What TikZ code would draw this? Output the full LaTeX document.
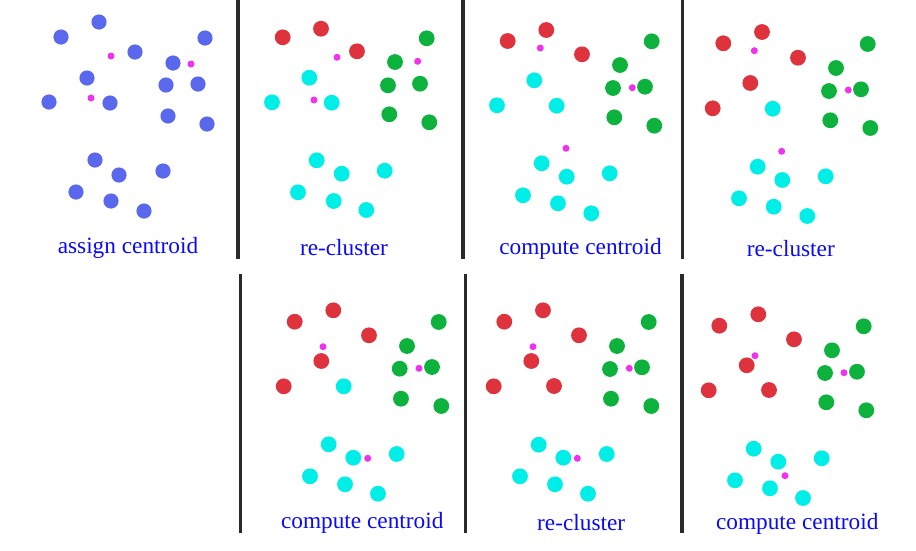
\documentclass[tikz,border=0pt]{standalone}
\usepackage{fontspec}
\setmainfont{Liberation Serif}
\definecolor{cBlue}{RGB}{90,104,238}
\definecolor{cRed}{RGB}{222,50,60}
\definecolor{cGreen}{RGB}{12,178,60}
\definecolor{cCyan}{RGB}{0,238,232}
\definecolor{cMag}{RGB}{240,50,240}
\definecolor{cBar}{RGB}{42,42,42}
\definecolor{cText}{RGB}{10,10,250}
\tikzset{
  bluedot/.style={fill=cBlue},
  reddot/.style={fill=cRed},
  greendot/.style={fill=cGreen},
  cyandot/.style={fill=cCyan},
  magdot/.style={fill=cMag},
  bar/.style={fill=cBar},
  caption/.style={anchor=base, text=cText, inner sep=0pt, font=\fontsize{23.3}{28}\selectfont}
}
\begin{document}
\begin{tikzpicture}[x=1pt,y=-1pt]
\useasboundingbox (0,0) rectangle (916,550);
\fill[white] (0,0) rectangle (916,550);
% separator bars
\fill[bar] (236,0) rectangle (240,259);
\fill[bar] (461,0) rectangle (465,259);
\fill[bar] (680.5,0) rectangle (684,259);
\fill[bar] (238.5,274) rectangle (242,533);
\fill[bar] (463.5,274) rectangle (467,533);
\fill[bar] (680,274) rectangle (683.5,533);
% panel 1
\foreach \x/\y in {99/22,61/37,205/38,135/52,173/63,87/78,166/85,198/84,49/102,110/103,168/116,207/124,95/160,119/175,163/171,76/192,111/201,144/211}
  \fill[bluedot] (\x,\y) circle (7.6);
\foreach \x/\y in {111/56,191/64,91/98}
  \fill[magdot] (\x,\y) circle (3.5);
\node[caption] (c1) at (128,253.3) {assign centroid};
% panel 2
\foreach \x/\y in {282.7/37.3,321/28.7,357/51.3}
  \fill[reddot] (\x,\y) circle (7.9);
\foreach \x/\y in {426.7/38.3,395/62,388/85.3,420/83.7,389.3/114.3,429.3/122.3}
  \fill[greendot] (\x,\y) circle (7.9);
\foreach \x/\y in {309.3/77.7,272/102.3,331.7/102.7,316.7/160.3,341.7/173.7,384.7/170.7,298/192.3,333.7/201,366.3/210}
  \fill[cyandot] (\x,\y) circle (7.9);
\foreach \x/\y in {337/57.3,417.7/61.3,314/100}
  \fill[magdot] (\x,\y) circle (3.5);
\node[caption] (c2) at (344,255) {re-cluster};
% panel 3
\foreach \x/\y in {507.7/41,546.3/30,582/54.3}
  \fill[reddot] (\x,\y) circle (7.9);
\foreach \x/\y in {651.7/41.3,620/65,613/88,645/86.7,614.3/117.3,654.3/125.7}
  \fill[greendot] (\x,\y) circle (7.9);
\foreach \x/\y in {534.3/80.3,497/105.3,556.7/105.7,541.7/163.3,566.7/176.7,609.7/173.3,523/195.3,558/203.3,591.3/213.3}
  \fill[cyandot] (\x,\y) circle (7.9);
\foreach \x/\y in {540.3/48,632.3/87.7,566/148.3}
  \fill[magdot] (\x,\y) circle (3.5);
\node[caption] (c3) at (580.5,254) {compute centroid};
% panel 4
\foreach \x/\y in {723.3/43.3,762/32,798/57.7,750.3/83,712.7/108.3}
  \fill[reddot] (\x,\y) circle (7.9);
\foreach \x/\y in {867.7/44,836/68,829/91,861/89.3,830.3/120.3,870.3/128}
  \fill[greendot] (\x,\y) circle (7.9);
\foreach \x/\y in {772.7/108.7,757.7/166.7,782.3/180,825.7/176.3,739/198.3,773.7/206.7,807.3/216}
  \fill[cyandot] (\x,\y) circle (7.9);
\foreach \x/\y in {754.3/50.7,848.3/90,781.7/151.3}
  \fill[magdot] (\x,\y) circle (3.5);
\node[caption] (c4) at (790.8,256) {re-cluster};
% panel 5
\foreach \x/\y in {294.7/321.7,333.3/310.3,369/335.3,321.3/361,283.7/386.3}
  \fill[reddot] (\x,\y) circle (7.9);
\foreach \x/\y in {438.7/322,407/346,399.7/368.7,432/367,401/398.7,441.3/406}
  \fill[greendot] (\x,\y) circle (7.9);
\foreach \x/\y in {343.7/386.3,328.7/444.3,353.3/457.7,396.7/454,310/476.3,345/484.3,378/493.7}
  \fill[cyandot] (\x,\y) circle (7.9);
\foreach \x/\y in {323/346.7,419/368.3,367.7/458.3}
  \fill[magdot] (\x,\y) circle (3.5);
\node[caption] (c5) at (362.2,528.3) {compute centroid};
% panel 6
\foreach \x/\y in {504.3/321.7,543/310.3,579/335.3,531.3/361,493.7/386.3,554/386}
  \fill[reddot] (\x,\y) circle (7.9);
\foreach \x/\y in {648.7/322,617/346,610/369,642/367.3,611/398.7,651.3/406}
  \fill[greendot] (\x,\y) circle (7.9);
\foreach \x/\y in {538.7/444.7,563.3/457.7,606.7/454,520/476.3,555/484.3,588/493.7}
  \fill[cyandot] (\x,\y) circle (7.9);
\foreach \x/\y in {533/346.7,629.3/368.3,577.3/458.3}
  \fill[magdot] (\x,\y) circle (3.5);
\node[caption] (c6) at (581.2,530) {re-cluster};
% panel 7
\foreach \x/\y in {719.3/325.7,758.3/314.3,794/339.3,746.7/365.3,708.7/390.3,769/390}
  \fill[reddot] (\x,\y) circle (7.9);
\foreach \x/\y in {863.7/326.3,832/350.3,825/373,857/371.7,826.3/402.3,866.3/410.3}
  \fill[greendot] (\x,\y) circle (7.9);
\foreach \x/\y in {753.7/448.7,778.3/461.7,821.7/458.3,735/480.3,770/488.3,803/498}
  \fill[cyandot] (\x,\y) circle (7.9);
\foreach \x/\y in {755/355.7,844/372.7,785/475.7}
  \fill[magdot] (\x,\y) circle (3.5);
\node[caption] (c7) at (797.2,529.3) {compute centroid};
\end{tikzpicture}
\end{document}
